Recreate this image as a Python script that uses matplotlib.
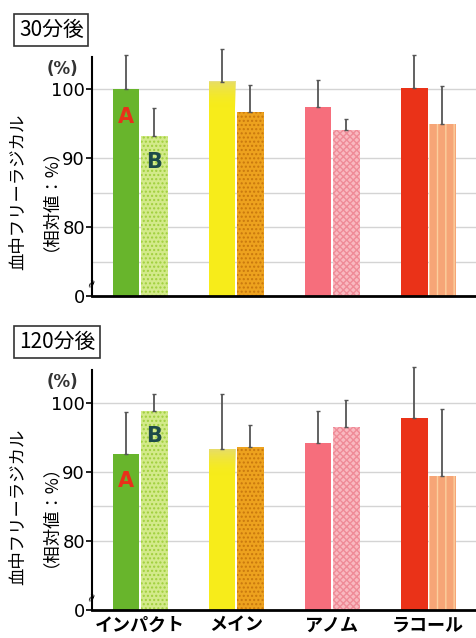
import numpy as np
import matplotlib
matplotlib.use("Agg")
import matplotlib.pyplot as plt

plt.rcParams['font.family'] = ['Noto Sans CJK JP', 'DejaVu Sans']
plt.rcParams['hatch.linewidth'] = 1.0

products = ["インパクト", "メイン", "アノム", "ラコール"]
titles = ["30分後", "120分後"]

# A (left bar) and B (right bar) per product, relative %
a_30 = [100.0, 101.1, 97.4, 100.1]
a_30_err = [4.9, 4.8, 3.9, 4.8]
b_30 = [93.2, 96.7, 94.1, 94.9]
b_30_err = [4.1, 3.9, 1.6, 5.5]

a_120 = [92.6, 93.3, 94.1, 97.7]
a_120_err = [6.0, 7.9, 4.7, 7.5]
b_120 = [98.8, 93.5, 96.5, 89.4]
b_120_err = [2.4, 3.2, 3.8, 9.6]

yticks = [70, 80, 90, 100]
ytick_labels = ["0", "80", "90", "100"]

a_colors = ["#68b52c", "#f7ec1a", "#f66e7c", "#ea3218"]
b_colors = ["#d3ea8a", "#eda21e", "#f9b9c0", "#f6a577"]
b_hatch_colors = ["#9fcf3c", "#c9780e", "#ef8b97", "#fbcf9e"]
b_hatches = ["....", "....", "xxxxx", "||"]

fig = plt.figure(figsize=(4.76, 6.38), dpi=100)
axes_pos = [[0.193, 0.536, 0.807, 0.375], [0.193, 0.044, 0.807, 0.376]]

x = np.arange(len(products))
w = 0.28


def draw_panel(ax, a, a_err, b, b_err, top):
    for yv in [75, 80, 85, 90, 100] if top else [80, 85, 90, 100]:
        ax.axhline(yv, color="#d4d4d4", lw=1.0, zorder=0)
    bars_a = ax.bar(x - 0.145, np.array(a) - 70, w, bottom=70, color=a_colors, zorder=2)
    bars_b = ax.bar(x + 0.15, np.array(b) - 70, w, bottom=70, color=b_colors, zorder=2)
    for bar, hc, h in zip(bars_b, b_hatch_colors, b_hatches):
        bar.set_hatch(h)
        bar.set_edgecolor(hc)
        bar.set_linewidth(0)
    # faded top of the yellow bar
    yb = bars_a[1]
    grad = np.linspace(0, 1, 50).reshape(-1, 1)
    ax.imshow(grad, cmap=matplotlib.colors.LinearSegmentedColormap.from_list(
        "g", [(0.9, 0.86, 0.45, 0.9), (0.97, 0.93, 0.1, 0.0)]),
        extent=[yb.get_x(), yb.get_x() + yb.get_width(),
                yb.get_y() + yb.get_height() - 4, yb.get_y() + yb.get_height()],
        aspect="auto", zorder=2.5)
    for xs, v, e in [(x - 0.145, a, a_err), (x + 0.15, b, b_err)]:
        eb = ax.errorbar(xs, v, yerr=[np.zeros(4), e], fmt="none",
                         ecolor="#555555", elinewidth=1.3, capsize=1.5, zorder=3)
        for art in eb.lines[1] + eb.lines[2]:
            art.set_clip_on(False)
    ax.set_xlim(-0.5, 3.5)
    ax.set_ylim(70, 104.7)
    ax.set_yticks(yticks)
    ax.set_yticklabels(ytick_labels, fontsize=13, family="DejaVu Sans")
    ax.tick_params(axis="y", length=4, width=1.2, pad=1)
    for s in ["top", "right"]:
        ax.spines[s].set_visible(False)
    ax.spines["left"].set_linewidth(1.5)
    ax.spines["bottom"].set_linewidth(2.0)
    # axis break mark
    ax.text(-0.5, 72, "≈", rotation=70, ha="center", va="center", fontsize=9,
            family="DejaVu Sans", zorder=5)
    ax.annotate("(%)", xy=(-0.035, 103.0), xycoords=("axes fraction", "data"),
                ha="right", va="center", fontsize=12, family="DejaVu Sans",
                fontweight="bold", color="#333333")


axs = []
data = [(a_30, a_30_err, b_30, b_30_err), (a_120, a_120_err, b_120, b_120_err)]
for i, pos in enumerate(axes_pos):
    ax = fig.add_axes(pos)
    draw_panel(ax, *data[i], top=(i == 0))
    axs.append(ax)

axs[0].set_xticks([])
axs[1].set_xticks(x)
axs[1].set_xticklabels(products, fontsize=13, fontweight="bold")
axs[1].tick_params(axis="x", length=0, pad=4)

# A / B labels
lab = dict(fontsize=15, ha="center", va="center", fontweight="bold",
           family="DejaVu Sans")
axs[0].text(-0.145, 96.0, "A", color="#e8301a", **lab)
axs[0].text(0.15, 89.4, "B", color="#1d4a4a", **lab)
axs[1].text(-0.145, 88.6, "A", color="#e8301a", **lab)
axs[1].text(0.15, 95.1, "B", color="#1d4a4a", **lab)

# panel titles with box
for t, yy in zip(titles, [0.953, 0.464]):
    fig.text(0.04, yy, t, fontsize=15, ha="left", va="center",
             bbox=dict(boxstyle="square,pad=0.22", fc="white", ec="#333333", lw=1.2))

# y labels
for yc in [0.70, 0.205]:
    fig.text(0.038, yc, "血中フリーラジカル", rotation=90, fontsize=12.5,
             ha="center", va="center")
    fig.text(0.086, yc, "（相対値：%）", rotation=90, fontsize=12.5,
             ha="center", va="center")

fig.savefig("out.png", dpi=100)
